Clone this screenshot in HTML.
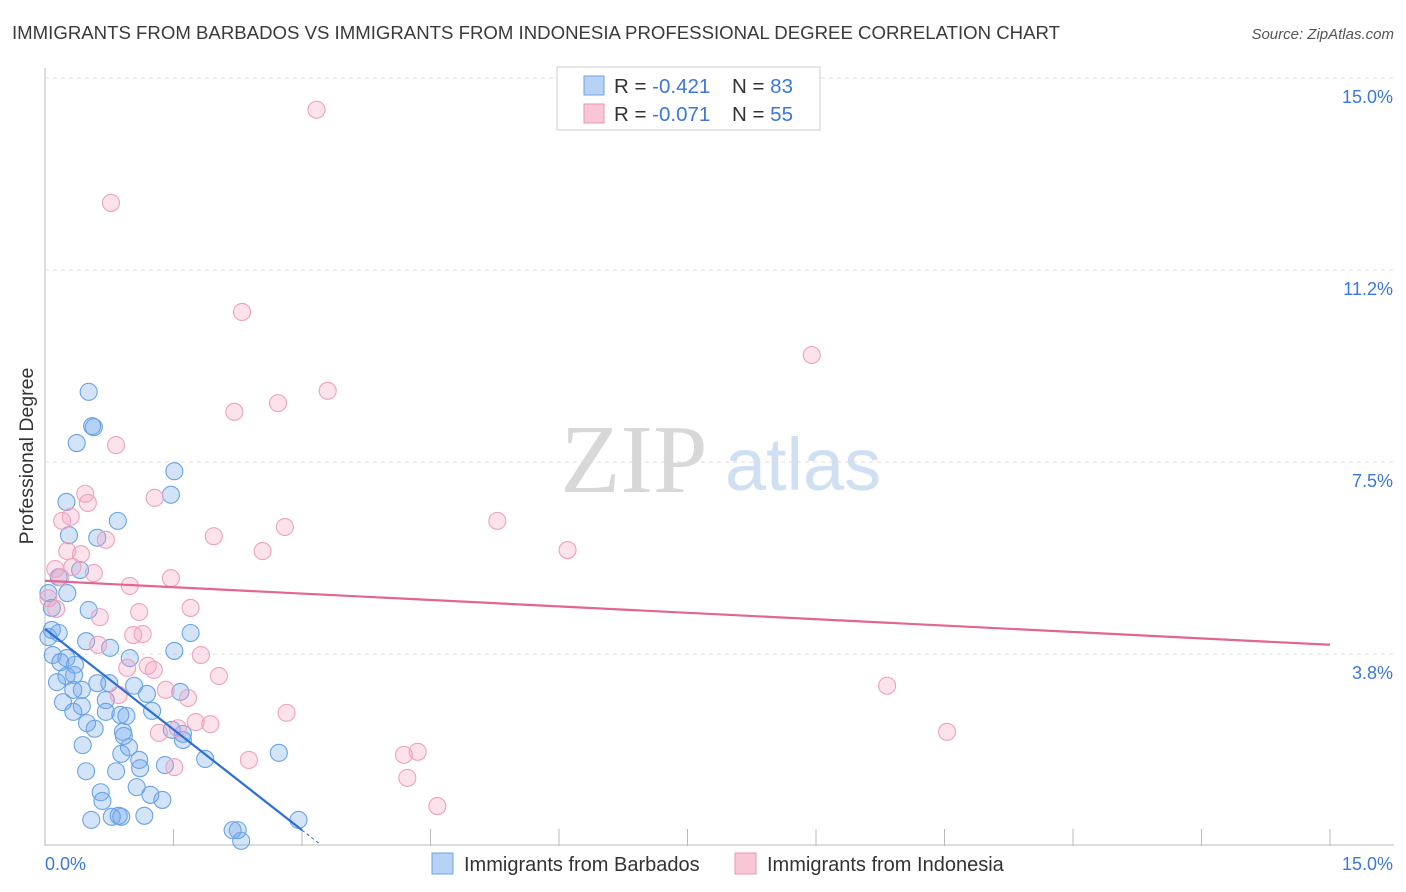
<!DOCTYPE html>
<html><head><meta charset="utf-8"><style>
body{margin:0;background:#fff;font-family:"Liberation Sans",sans-serif;}
svg{display:block}
</style></head><body>
<svg width="1406" height="892">
<text x="12" y="39" font-size="18.5" fill="#3a3a3a" textLength="1048" lengthAdjust="spacingAndGlyphs">IMMIGRANTS FROM BARBADOS VS IMMIGRANTS FROM INDONESIA PROFESSIONAL DEGREE CORRELATION CHART</text>
<text x="1394" y="39" font-size="15" font-style="italic" fill="#555" text-anchor="end">Source: ZipAtlas.com</text>
<text x="634" y="492" font-size="98" font-family="Liberation Serif,serif" fill="#d8d8d8" text-anchor="middle">ZIP</text>
<text x="803" y="490" font-size="74" fill="#cfe0f3" text-anchor="middle">atlas</text>
<text x="33" y="456" font-size="19.5" fill="#333" text-anchor="middle" transform="rotate(-90 33 456)">Professional Degree</text>
<g id="grid"></g><g id="pts"></g><g id="trend"></g>
<g>
<rect x="557" y="67" width="263" height="63" fill="#fff" stroke="#ccc"/>
<rect x="584" y="76" width="20" height="19" fill="#b7d2f4" stroke="#6fa3e4"/>
<rect x="584" y="104" width="20" height="19" fill="#f9c6d6" stroke="#eb96b2"/>
<text x="614" y="93" font-size="20.5" fill="#333">R = <tspan fill="#3b78d8">-0.421</tspan><tspan x="732">N = </tspan><tspan fill="#3b78d8">83</tspan></text>
<text x="614" y="121" font-size="20.5" fill="#333">R = <tspan fill="#3b78d8">-0.071</tspan><tspan x="732">N = </tspan><tspan fill="#3b78d8">55</tspan></text>
</g>
<g>
<rect x="432" y="853" width="21" height="21" fill="#b7d2f4" stroke="#6fa3e4"/>
<text x="464" y="871" font-size="20" fill="#333">Immigrants from Barbados</text>
<rect x="735" y="853" width="21" height="21" fill="#f9c6d6" stroke="#eb96b2"/>
<text x="767" y="871" font-size="20" fill="#333">Immigrants from Indonesia</text>
</g>
</svg>
<script>
const yTicks=[15.0,11.2,7.5,3.8];
const yTickVals=[15,11.25,7.5,3.75];
const xTickLabels=["0.0%","15.0%"];
const blueX=[0.51,0.55,0.57,0.37,1.51,1.47,0.25,0.85,0.28,0.61,0.41,0.16,0.04,0.26,0.08,0.51,0.08,0.16,1.70,0.04,0.48,0.76,1.51,0.09,0.25,0.99,0.18,0.35,0.34,0.25,0.14,0.61,0.75,1.04,0.43,0.33,1.58,1.19,0.21,0.71,0.43,0.71,0.33,1.25,0.88,0.95,0.49,1.48,0.91,1.61,1.61,0.92,0.58,0.44,0.98,0.89,1.10,1.40,1.87,2.73,0.48,0.83,1.11,0.65,1.07,1.23,0.67,1.37,0.54,0.78,0.89,1.16,2.96,2.19,2.25,2.29,0.86];
const blueY=[8.87,8.20,8.18,7.87,7.32,6.86,6.72,6.35,6.07,6.02,5.39,5.25,4.94,4.94,4.65,4.61,4.22,4.16,4.16,4.08,4.00,3.87,3.81,3.73,3.67,3.67,3.59,3.54,3.34,3.32,3.20,3.18,3.18,3.13,3.05,3.05,3.01,2.97,2.81,2.85,2.73,2.62,2.62,2.64,2.56,2.54,2.40,2.27,2.23,2.19,2.07,2.15,2.29,1.97,1.93,1.80,1.68,1.58,1.70,1.82,1.46,1.46,1.52,1.05,1.15,1.00,0.88,0.90,0.51,0.57,0.57,0.59,0.51,0.31,0.31,0.10,0.59];
const pinkX=[3.17,0.77,2.30,8.95,3.30,2.72,2.21,0.83,1.28,0.47,0.50,0.30,0.20,5.28,2.80,1.97,0.71,6.10,2.54,0.26,0.42,0.12,0.18,0.57,0.32,1.47,0.99,0.04,0.13,1.10,1.70,0.64,1.03,1.14,0.62,1.82,0.96,1.20,1.27,2.03,1.41,1.67,9.83,0.86,1.55,1.76,1.93,1.33,2.82,10.53,4.19,4.35,2.38,1.51,4.23,4.58];
const pinkY=[14.38,12.56,10.43,9.59,8.89,8.65,8.48,7.83,6.80,6.88,6.70,6.43,6.35,6.35,6.23,6.05,5.98,5.78,5.76,5.76,5.70,5.41,5.25,5.33,5.45,5.23,5.08,4.84,4.63,4.57,4.65,4.47,4.12,4.14,3.93,3.73,3.48,3.52,3.44,3.32,3.05,2.89,3.13,2.95,2.30,2.42,2.38,2.21,2.60,2.23,1.78,1.84,1.68,1.54,1.33,0.78];
const blueTrend=[4.24,0.31,3.0];
const pinkTrend=[5.18,3.93];
const X=v=>45+v/15*1285, Y=v=>846-v/3.75*192;
const NS="http://www.w3.org/2000/svg";
function mk(tag,attrs,parent){const e=document.createElementNS(NS,tag);for(const k in attrs)e.setAttribute(k,attrs[k]);document.getElementById(parent).appendChild(e);return e;}
const ax=mk('line',{x1:45,y1:68,x2:45,y2:846,stroke:'#bbb'},'grid');


const bx=mk('line',{x1:45,y1:845,x2:1394,y2:845,stroke:'#bbb'},'grid');


yTickVals.forEach((v,i)=>{
 const g=mk('line',{x1:45,x2:1394,y1:Y(v),y2:Y(v),stroke:'#ddd','stroke-dasharray':'4,4'},'grid');
 
 
 const t=mk('text',{x:1393,y:Y(v)+25,'font-size':18,fill:'#3b78d8','text-anchor':'end'},'grid');
 t.textContent=yTicks[i].toFixed(1)+'%';
 
 
});
for(let i=0;i<=10;i++){const x=X(i*1.5);
 const t=mk('line',{x1:x,x2:x,y1:829,y2:846,stroke:'#bbb'},'grid');
 
 }
[[0,'start',45],[15,'end',1393]].forEach((a,i)=>{
 const t=mk('text',{x:a[2],y:870,'font-size':18,fill:'#3b78d8','text-anchor':a[1]},'grid');
 t.textContent=xTickLabels[i];
 
 });
blueX.forEach((x,i)=>{
 const c=mk('circle',{cx:X(x),cy:Y(blueY[i]),r:8.5,fill:'rgba(110,165,235,0.3)',stroke:'#6aa3e6','stroke-width':1.1},'pts');
 
 });
pinkX.forEach((x,i)=>{
 const c=mk('circle',{cx:X(x),cy:Y(pinkY[i]),r:8.5,fill:'rgba(245,160,190,0.3)',stroke:'#eda2bb','stroke-width':1.1},'pts');
 
 });
const slope=(blueTrend[1]-blueTrend[0])/blueTrend[2];
const bl=mk('line',{x1:X(0),y1:Y(blueTrend[0]),x2:X(blueTrend[2]),y2:Y(blueTrend[1]),stroke:'#2d6fd6','stroke-width':2.2},'trend');


const bd=mk('line',{x1:X(blueTrend[2]),y1:Y(blueTrend[1]),x2:X(3.21),y2:Y(blueTrend[0]+slope*3.21),stroke:'#2d6fd6','stroke-width':1,'stroke-dasharray':'3,3'},'trend');


const pl=mk('line',{x1:X(0),y1:Y(pinkTrend[0]),x2:X(15),y2:Y(pinkTrend[1]),stroke:'#e26592','stroke-width':2.2},'trend');


</script>
</body></html>
